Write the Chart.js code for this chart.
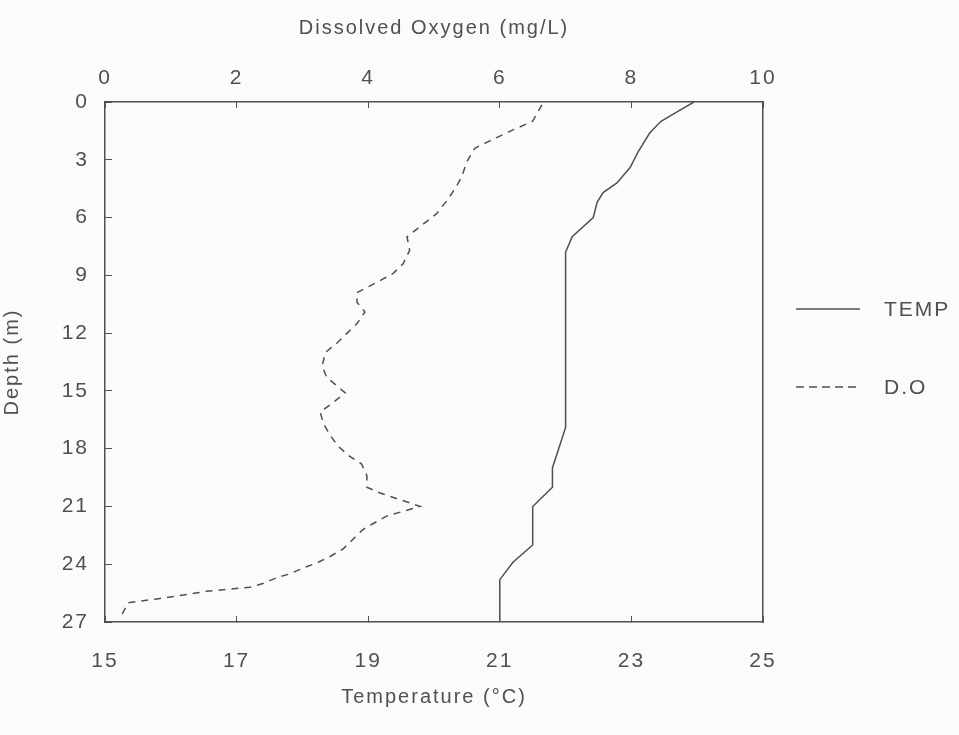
<!DOCTYPE html>
<html lang="en">
<head>
    <meta charset="UTF-8">
    <title>Depth profile</title>
    <script src="https://cdn.jsdelivr.net/npm/chart.js"></script>
    <style>
        html, body { margin: 0; padding: 0; background: #fbfbfb; }
        #wrap { width: 959px; height: 735px; position: relative; }
    </style>
</head>
<body>
<div id="wrap"><canvas id="profile"></canvas></div>
<script>
    // Температура по глубине
    const tempDepth = [0, 0.5, 1.0, 1.6, 2.6, 3.4, 4.2, 4.7, 5.2, 6.0, 7.0, 7.8, 16.9, 19.0, 20.0, 21.0, 23.0, 23.9, 24.8, 27.0];
    const tempValues = [23.95, 23.7, 23.45, 23.28, 23.1, 22.98, 22.78, 22.57, 22.48, 22.42, 22.1, 22.0, 22.0, 21.8, 21.8, 21.5, 21.5, 21.2, 21.0, 21.0];

    // Растворённый кислород по глубине
    const doDepth = [0.15, 1.0, 1.45, 2.1, 2.4, 3.1, 3.9, 4.5, 5.1, 5.8, 6.2, 6.6, 7.0, 7.7, 8.4, 8.9, 9.2, 9.9, 10.4, 10.9, 11.5, 12.0, 12.5, 13.0, 13.7, 14.3, 15.1, 15.6, 16.1, 16.7, 17.3, 17.9, 18.4, 18.8, 19.4, 20.0, 20.3, 21.0, 21.5, 21.9, 22.2, 22.7, 23.2, 23.6, 23.9, 24.2, 24.5, 24.7, 25.0, 25.2, 25.4, 25.6, 25.8, 26.0, 26.6];
    const doValues = [6.64, 6.5, 6.2, 5.8, 5.62, 5.5, 5.42, 5.32, 5.2, 5.04, 4.89, 4.74, 4.59, 4.63, 4.53, 4.38, 4.22, 3.83, 3.83, 3.95, 3.83, 3.68, 3.53, 3.35, 3.3, 3.37, 3.65, 3.47, 3.27, 3.32, 3.42, 3.55, 3.72, 3.9, 3.98, 3.98, 4.18, 4.79, 4.28, 4.07, 3.92, 3.77, 3.62, 3.42, 3.24, 3.01, 2.81, 2.61, 2.4, 2.2, 1.55, 1.19, 0.79, 0.35, 0.26];

    const depthTicks = [0, 3, 6, 9, 12, 15, 18, 21, 24, 27];
    const tempTicks = [15, 17, 19, 21, 23, 25];
    const doTicks = [0, 2, 4, 6, 8, 10];

    const ink = '#505050';
    const tickFont = { family: 'Liberation Sans', size: 21 };
    const titleFont = { family: 'Liberation Sans', size: 20 };

    const toPoints = (xs, ys) => xs.map((v, i) => ({ x: v, y: ys[i] }));

    // разрядка букв, как на старой распечатке
    const spacing = {
        id: 'spacing',
        beforeUpdate: chart => { chart.ctx.letterSpacing = '2px'; },
        beforeDraw: chart => { chart.ctx.letterSpacing = '2px'; }
    };

    // легенда справа: линия + подпись, стиль берётся из набора данных
    const sideLegend = {
        id: 'sideLegend',
        afterDraw: chart => {
            const ctx = chart.ctx;
            const rows = [309, 387];
            ctx.save();
            chart.data.datasets.forEach((ds, i) => {
                const y = rows[i];
                ctx.strokeStyle = ds.borderColor;
                ctx.lineWidth = ds.borderWidth;
                ctx.setLineDash(ds.borderDash ? [8, 5] : []);
                ctx.beginPath();
                ctx.moveTo(796, y);
                ctx.lineTo(860, y);
                ctx.stroke();
                ctx.fillStyle = ink;
                ctx.font = '21px "Liberation Sans"';
                ctx.textBaseline = 'middle';
                ctx.fillText(ds.label, 884, y + 1);
            });
            ctx.restore();
        }
    };

    new Chart(document.getElementById('profile'), {
        type: 'scatter',
        data: {
            datasets: [{
                label: 'TEMP',
                data: toPoints(tempValues, tempDepth),
                xAxisID: 'x',
                yAxisID: 'y',
                showLine: true,
                borderColor: ink,
                borderWidth: 1.5,
                pointRadius: 0,
                tension: 0
            }, {
                label: 'D.O',
                data: toPoints(doValues, doDepth),
                xAxisID: 'x2',
                yAxisID: 'y',
                showLine: true,
                borderColor: ink,
                borderWidth: 1.5,
                borderDash: [7, 6],
                pointRadius: 0,
                tension: 0
            }]
        },
        options: {
            responsive: true,
            maintainAspectRatio: false,
            animation: false,
            layout: { padding: { top: 16, right: 196, bottom: 26, left: 0 } },
            plugins: {
                tooltip: { enabled: false },
                legend: { display: false }
            },
            scales: {
                x: {
                    type: 'linear',
                    position: 'bottom',
                    min: 15, max: 25,
                    afterBuildTicks: axis => { axis.ticks = tempTicks.map(v => ({ value: v })); },
                    afterFit: axis => { axis.height = 87; },
                    grid: { drawOnChartArea: false, tickLength: -6, color: ink },
                    border: { color: ink, width: 1.5 },
                    ticks: { color: ink, font: tickFont, padding: 33 },
                    title: { display: true, text: 'Temperature (°C)', color: ink, font: titleFont, padding: 0 }
                },
                x2: {
                    type: 'linear',
                    position: 'top',
                    min: 0, max: 10,
                    afterBuildTicks: axis => { axis.ticks = doTicks.map(v => ({ value: v })); },
                    afterFit: axis => { axis.height = 86; },
                    grid: { drawOnChartArea: false, tickLength: -6, color: ink },
                    border: { color: ink, width: 1.5 },
                    ticks: { color: ink, font: tickFont, padding: 17 },
                    title: { display: true, text: 'Dissolved Oxygen (mg/L)', color: ink, font: titleFont, padding: 0 }
                },
                y: {
                    type: 'linear',
                    position: 'left',
                    reverse: true,
                    min: 0, max: 27,
                    afterBuildTicks: axis => { axis.ticks = depthTicks.map(v => ({ value: v })); },
                    afterFit: axis => { axis.width = 105; },
                    grid: { drawOnChartArea: false, tickLength: -7, color: ink },
                    border: { color: ink, width: 1.5 },
                    ticks: { color: ink, font: tickFont, padding: 23 },
                    title: { display: true, text: 'Depth (m)', color: ink, font: titleFont, padding: 0 }
                },
                y2: {
                    type: 'linear',
                    position: 'right',
                    reverse: true,
                    min: 0, max: 27,
                    afterFit: axis => { axis.width = 0; },
                    grid: { display: false },
                    border: { color: ink, width: 1.5 },
                    ticks: { display: false }
                }
            }
        },
        plugins: [spacing, sideLegend]
    });
</script>
</body>
</html>
